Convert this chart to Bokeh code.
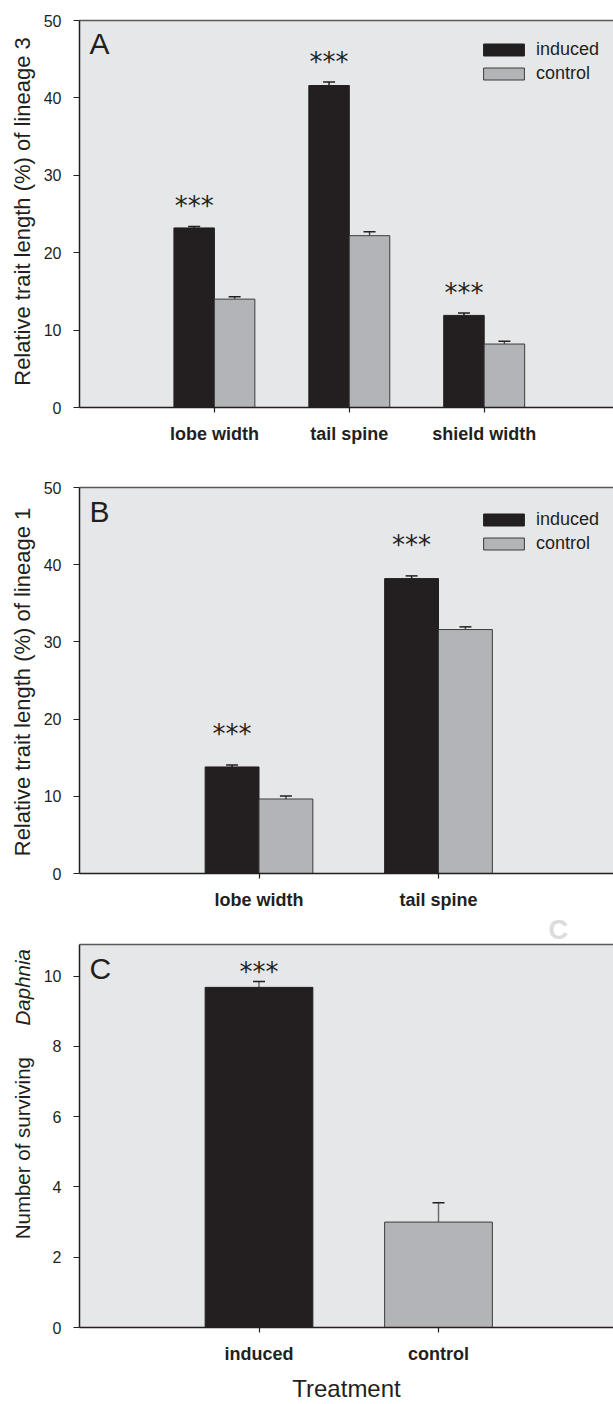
import math
from bokeh.plotting import figure
from bokeh.models import (ColumnDataSource, FixedTicker, LinearAxis, Range1d, Label,
                          Legend, LegendItem, Whisker, TeeHead, Title)
from bokeh.layouts import column, row
from bokeh.embed import file_html
from bokeh.resources import INLINE
from bokeh.core.properties import value

# ---------------- data ----------------
series = ["induced", "control"]

a_traits = ["lobe width", "tail spine", "shield width"]
a_induced = [23.2, 41.6, 11.9]
a_induced_se = [0.2, 0.45, 0.3]
a_control = [14.0, 22.2, 8.2]
a_control_se = [0.3, 0.5, 0.35]
a_yticks = [0, 10, 20, 30, 40, 50]

b_traits = ["lobe width", "tail spine"]
b_induced = [13.8, 38.2]
b_induced_se = [0.25, 0.35]
b_control = [9.65, 31.6]
b_control_se = [0.4, 0.35]
b_yticks = [0, 10, 20, 30, 40, 50]

c_groups = ["induced", "control"]
c_means = [9.68, 3.0]
c_se = [0.17, 0.55]
c_yticks = [0, 2, 4, 6, 8, 10]

stars = "***"

# ---------------- style ----------------
FONT = "Liberation Sans"
INK = "#231f20"
GREY = "#b3b4b7"
BG = "#e6e7e8"
PAGE_W = 613
LABEL_W = 40
FRAME_LEFT = 79


def base_fig(height, bt, bb, xend, ymax, yticks):
    p = figure(width=PAGE_W - LABEL_W, height=height, x_range=Range1d(0, xend),
               y_range=Range1d(0, ymax),
               min_border_left=FRAME_LEFT - LABEL_W, min_border_right=0,
               min_border_top=bt, min_border_bottom=bb,
               output_backend="svg", toolbar_location=None)
    p.background_fill_color = BG
    p.border_fill_color = "white"
    p.outline_line_color = None
    p.xgrid.visible = False
    p.ygrid.visible = False
    xa = p.below[0]
    ya = p.left[0]
    for ax in (xa, ya):
        ax.axis_line_color = INK
        ax.axis_line_width = 1.5
        ax.major_tick_line_color = INK
        ax.major_tick_line_width = 1.2
        ax.major_tick_in = 0
        ax.minor_tick_line_color = None
    ya.ticker = FixedTicker(ticks=yticks)
    ya.major_tick_out = 6
    ya.major_label_standoff = 12
    ya.major_label_text_font = FONT
    ya.major_label_text_font_size = "16px"
    ya.major_label_text_color = INK
    xa.major_tick_out = 5
    xa.major_label_standoff = 11
    xa.major_label_text_font = FONT
    xa.major_label_text_font_style = "bold"
    xa.major_label_text_font_size = "18px"
    xa.major_label_text_color = INK
    top = LinearAxis(ticker=FixedTicker(ticks=[]), axis_line_color="#58595b", axis_line_width=1.5,
                     major_tick_line_color=None, minor_tick_line_color=None)
    p.add_layout(top, "above")
    return p, xa


def label_fig(height, bt, bb, page_top, items, size):
    """Narrow figure holding the rotated y title; its y range is in page pixels (downwards)."""
    f_top = page_top + bt
    f_bot = page_top + height - bb
    f = figure(width=LABEL_W, height=height, x_range=Range1d(0, LABEL_W),
               y_range=Range1d(f_bot, f_top), min_border_left=0, min_border_right=0,
               min_border_top=bt, min_border_bottom=bb, x_axis_type=None, y_axis_type=None,
               output_backend="svg", toolbar_location=None)
    f.outline_line_color = None
    f.background_fill_color = "white"
    f.border_fill_color = "white"
    f.xgrid.visible = False
    f.ygrid.visible = False
    for text, y, align, style in items:
        f.text(x=[22], y=[y], text=[text], angle=math.pi / 2, text_font=value(FONT),
               text_font_size=size, text_font_style=style, text_color=INK,
               text_align=align, text_baseline="middle")
    return f


def add_whiskers(p, xs, tops, ses, color):
    src = ColumnDataSource(dict(x=xs, lo=tops, up=[t + s for t, s in zip(tops, ses)]))
    w = Whisker(source=src, base="x", lower="lo", upper="up", dimension="height",
                line_color=color, line_width=1.5, lower_head=None,
                upper_head=TeeHead(size=12, line_color=INK, line_width=1.5))
    p.add_layout(w)


def add_stars(p, xs, tops, ses, offset, size="26px"):
    src = ColumnDataSource(dict(x=xs, y=[t + s for t, s in zip(tops, ses)], t=[stars] * len(xs)))
    p.text(x="x", y="y", text="t", source=src, text_font=value("DejaVu Sans"),
           text_font_size=size, text_align="center", text_baseline="middle",
           y_offset=offset, text_color=INK)


def add_letter(p, letter, ymax, down):
    p.add_layout(Label(x=0, y=ymax, x_offset=10, y_offset=-down, text=letter,
                       text_font=FONT, text_font_size="30px", text_color=INK,
                       text_baseline="alphabetic", text_align="left"))


def grouped(p, xa, traits, ind, ind_se, ctl, ctl_se, star_off, leg_y):
    pos = list(range(1, len(traits) + 1))
    xi = [k - 0.15 for k in pos]
    xc = [k + 0.15 for k in pos]
    add_whiskers(p, xi, ind, ind_se, INK)
    add_whiskers(p, xc, ctl, ctl_se, "#4d4d4f")
    ri = p.vbar(x=xi, top=ind, width=0.3, fill_color=INK, line_color=INK, line_width=1)
    rc = p.vbar(x=xc, top=ctl, width=0.3, fill_color=GREY, line_color="#3c3c3e", line_width=1)
    add_stars(p, xi, ind, ind_se, star_off)
    xa.ticker = FixedTicker(ticks=pos)
    xa.major_label_overrides = {k: t for k, t in zip(pos, traits)}
    leg = Legend(items=[LegendItem(label=series[0], renderers=[ri]),
                        LegendItem(label=series[1], renderers=[rc])],
                 location=(399, leg_y), glyph_width=51, glyph_height=15,
                 label_text_font=FONT, label_text_font_size="18px", label_text_color=INK,
                 label_standoff=7, label_height=12, spacing=3, padding=0, margin=0,
                 border_line_color=None, background_fill_alpha=0)
    p.add_layout(leg)


# ---------------- panel A ----------------
HA, TA, BA = 470, 20, 63
pA, xaA = base_fig(HA, TA, BA, 534 / 134.9, 50, a_yticks)
grouped(pA, xaA, a_traits, a_induced, a_induced_se, a_control, a_control_se, -20, 323)
add_letter(pA, "A", 50, 23)
lA = label_fig(HA, TA, BA, 0,
               [("Relative trait length (%) of lineage 3", 211, "center", "normal")], "22px")

# ---------------- panel B ----------------
HB, TB, BB = 442, 17, 38
pB, xaB = base_fig(HB, TB, BB, 534 / 179.5, 50, b_yticks)
grouped(pB, xaB, b_traits, b_induced, b_induced_se, b_control, b_control_se, -31, 319)
add_letter(pB, "B", 50, 24)
lB = label_fig(HB, TB, BB, 470,
               [("Relative trait length (%) of lineage 1", 682, "center", "normal")], "22px")

# ---------------- panel C ----------------
HC, TC, BC = 492, 31, 73
pC, xaC = base_fig(HC, TC, BC, 534 / 179.5, 10.9, c_yticks)
cpos = [1, 2]
add_whiskers(pC, cpos, c_means, c_se, "#6d6e71")
pC.vbar(x=cpos, top=c_means, width=0.6, fill_color=[INK, GREY],
        line_color=[INK, "#3c3c3e"], line_width=1)
add_stars(pC, [cpos[0]], [c_means[0]], [c_se[0]], -9)
xaC.ticker = FixedTicker(ticks=cpos)
xaC.major_label_overrides = {k: t for k, t in zip(cpos, c_groups)}
xaC.axis_label = "Treatment"
xaC.axis_label_text_font = FONT
xaC.axis_label_text_font_style = "normal"
xaC.axis_label_text_font_size = "24px"
xaC.axis_label_text_color = INK
xaC.axis_label_standoff = 8
add_letter(pC, "C", 10.9, 24)
pC.title = Title(text="C", align="left", offset=469, standoff=0, text_font=FONT,
                 text_font_size="27px", text_font_style="bold", text_color="#dcdcdd")
lC = label_fig(HC, TC, BC, 912,
               [("Number of surviving", 1057, "right", "normal"),
                ("Daphnia", 1025, "left", "italic")], "20.5px")

layout = column(row(lA, pA, spacing=0), row(lB, pB, spacing=0), row(lC, pC, spacing=0),
                spacing=0)
open("out.html", "w").write(file_html(layout, INLINE))
